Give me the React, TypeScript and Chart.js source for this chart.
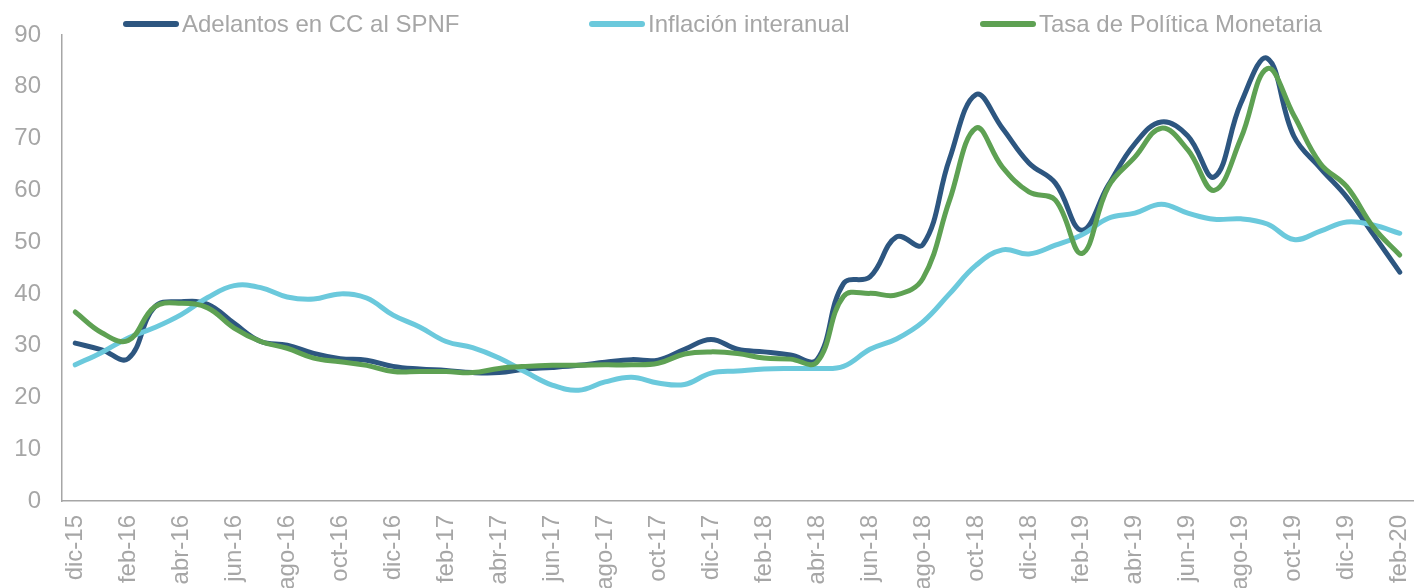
import React, { useEffect, useRef } from "react";
import { Chart, registerables } from "chart.js";

Chart.register(...registerables);

const months: string[] = [
  "dic-15", "ene-16", "feb-16", "mar-16", "abr-16", "may-16", "jun-16", "jul-16", "ago-16", "sep-16", "oct-16", "nov-16",
  "dic-16", "ene-17", "feb-17", "mar-17", "abr-17", "may-17", "jun-17", "jul-17", "ago-17", "sep-17", "oct-17", "nov-17",
  "dic-17", "ene-18", "feb-18", "mar-18", "abr-18", "may-18", "jun-18", "jul-18", "ago-18", "sep-18", "oct-18", "nov-18",
  "dic-18", "ene-19", "feb-19", "mar-19", "abr-19", "may-19", "jun-19", "jul-19", "ago-19", "sep-19", "oct-19", "nov-19",
  "dic-19", "ene-20", "feb-20",
];

const adelantos: number[] = [
  30.5, 29.2, 27.5, 37.5, 38.5, 38, 34.3, 30.8, 30.1, 28.5, 27.5, 27.2,
  26, 25.5, 25.2, 24.8, 24.8, 25.5, 25.8, 26.2, 26.8, 27.3, 27.2, 29.3,
  31.2, 29.3, 28.8, 28.2, 27.3, 42, 43.3, 51, 49.5, 66, 78.5, 72,
  65.3, 61.4, 52.3, 61, 69, 73.2, 70.5, 62.6, 76.8, 85.5, 70.5, 64.3,
  58.7, 51.5, 44.2,
];

const inflacion: number[] = [
  26.3, 28.7, 31.5, 33.5, 36, 39.3, 41.6, 41.2, 39.4, 39, 40, 39.2,
  35.9, 33.6, 30.8, 29.6, 27.6, 24.9, 22.4, 21.4, 23, 23.9, 22.8, 22.5,
  24.7, 25.1, 25.5, 25.6, 25.6, 26, 29.3, 31.3, 34.6, 40, 45.5, 48.5,
  47.7, 49.4, 51.4, 54.6, 55.6, 57.3, 55.6, 54.4, 54.5, 53.5, 50.5, 52.1,
  53.9, 53.3, 51.7,
];

const tasa: number[] = [
  36.5, 32.5, 31, 37.5, 38.2, 37.3, 33.4, 30.8, 29.5, 27.6, 26.9, 26.2,
  25, 25, 25, 24.8, 25.6, 26, 26.2, 26.2, 26.3, 26.3, 26.6, 28.4,
  28.8, 28.5, 27.6, 27.4, 26.8, 39.5, 40.1, 39.8, 43, 58, 72, 64.5,
  59.7, 58.1, 47.8, 60.7, 66.4, 72, 67.8, 60, 70, 83.5, 74.5, 65.2,
  60.7, 52.9, 47.5,
];

const seriesNames: string[] = ["Adelantos en CC al SPNF", "Inflación interanual", "Tasa de Política Monetaria"];
const seriesColors: string[] = ["#2D5680", "#6BC9DC", "#5EA153"];
const legendLeft: number[] = [123, 589, 980];

const GRAY = "#A6A6A6";
const FONT = "'Liberation Sans', Arial, sans-serif";
const FONT_SIZE = 24;

export default function App() {
  const canvasRef = useRef<HTMLCanvasElement | null>(null);

  useEffect(() => {
    document.body.style.margin = "0";
    const canvas = canvasRef.current;
    if (!canvas) return;
    const seriesData = [adelantos, inflacion, tasa];
    const chart = new Chart(canvas, {
      type: "line",
      data: {
        labels: months,
        datasets: seriesNames.map((name, i) => ({
          label: name,
          data: seriesData[i],
          borderColor: seriesColors[i],
          backgroundColor: seriesColors[i],
          borderWidth: 5,
          pointRadius: 0,
          tension: 0.4,
          fill: false,
          order: 2 - i,
          borderCapStyle: "round" as const,
          borderJoinStyle: "round" as const,
        })),
      },
      options: {
        animation: false,
        responsive: true,
        maintainAspectRatio: false,
        layout: { padding: { top: 35, right: 2, left: 0, bottom: 0 } },
        plugins: {
          legend: { display: false },
          tooltip: { enabled: false },
        },
        scales: {
          x: {
            type: "category",
            offset: true,
            grid: { display: false, drawTicks: false },
            border: { display: true, color: GRAY, width: 1.5 },
            ticks: {
              autoSkip: false,
              maxRotation: 90,
              minRotation: 90,
              padding: 14,
              color: GRAY,
              font: { family: FONT, size: FONT_SIZE },
              callback: (_v: any, idx: number) => (idx % 2 === 0 ? months[idx] : ""),
            },
            afterFit: (scale: any) => {
              scale.height = 87;
              scale.paddingLeft = 0;
              scale.paddingRight = 0;
            },
          },
          y: {
            min: 0,
            max: 90,
            grid: { display: false, drawTicks: false },
            border: { display: true, color: GRAY, width: 1.5 },
            ticks: {
              stepSize: 10,
              padding: 21,
              color: GRAY,
              font: { family: FONT, size: FONT_SIZE },
            },
            afterFit: (scale: any) => {
              scale.width = 62;
              scale.paddingTop = 0;
              scale.paddingBottom = 0;
            },
          },
        },
      },
    });
    return () => chart.destroy();
  }, []);

  return (
    <div style={{ position: "relative", width: 1415, height: 588, fontFamily: FONT }}>
      <canvas ref={canvasRef} />
      {seriesNames.map((name, i) => (
        <div
          key={name}
          style={{
            position: "absolute",
            left: legendLeft[i],
            top: 10,
            height: 28,
            display: "flex",
            alignItems: "center",
            whiteSpace: "nowrap",
          }}
        >
          <span
            style={{
              display: "inline-block",
              width: 56,
              height: 6,
              borderRadius: 3,
              background: seriesColors[i],
              marginRight: 3,
            }}
          />
          <span style={{ color: GRAY, fontSize: FONT_SIZE, lineHeight: "28px" }}>{name}</span>
        </div>
      ))}
    </div>
  );
}
